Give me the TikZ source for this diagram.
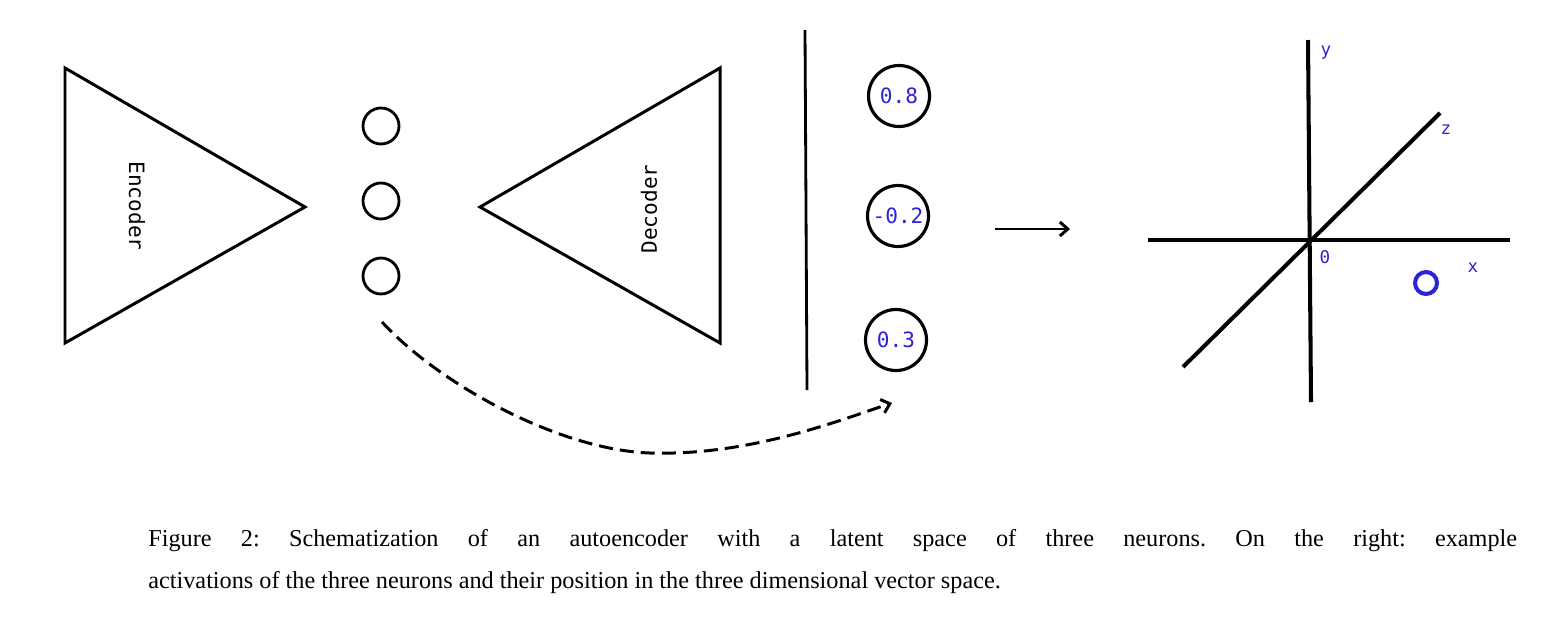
\documentclass[tikz,border=0pt]{standalone}
\usepackage{fontspec}
\setmainfont{Liberation Serif}
\newfontfamily\labelfont{DejaVu Sans Mono}
\usetikzlibrary{arrows.meta}
\definecolor{valblue}{RGB}{45,35,215}

\begin{document}
\begin{tikzpicture}[
    x=0.02cm, y=-0.02cm,
    every node/.style={font=\labelfont\fontsize{12}{14}\selectfont},
    neuron/.style={
        draw,
        circle,
        line width=1.6pt,
        minimum size=0.72cm,
        inner sep=0pt
    },
    value/.style={
        draw,
        circle,
        line width=1.8pt,
        minimum size=1.22cm,
        inner sep=0pt,
        text=valblue
    },
    axislabel/.style={text=valblue, font=\labelfont\fontsize{10}{12}\selectfont},
    net/.style={line width=1.7pt, line join=miter},
    axis/.style={line width=2.3pt},
    arrow/.style={-{Straight Barb[length=4.5pt,width=8pt]}, line width=1.7pt}
]

\useasboundingbox (0,0) rectangle (1567,629);

% Encoder
\draw[net] (65,68) -- (305,207) -- (65,343) -- cycle;
\node[rotate=-90] (enc) at (137,206) {Encoder};

% Latent neurons
\node[neuron] (l1) at (381,126) {};
\node[neuron] (l2) at (381,201) {};
\node[neuron] (l3) at (381,276) {};

% Decoder
\draw[net] (720,68) -- (480,207) -- (720,343) -- cycle;
\node[rotate=90] (dec) at (649,209) {Decoder};

% Separator
\draw[line width=1.6pt] (805,30) -- (807,390);

% Activations
\node[value] (v1) at (899,96) {0.8};
\node[value] (v2) at (898,216) {-0.2};
\node[value] (v3) at (896,340) {0.3};

% Latent to activations
\coordinate (dstart) at (382,322);
\coordinate (dlow) at (650,453);
\coordinate (dend) at (892,403);
\draw[arrow, dash pattern=on 8pt off 4pt] (dstart) .. controls (440,385) and (560,450) .. (dlow)
    .. controls (750,456) and (840,420) .. (dend);

% To vector space
\coordinate (map1) at (995,229);
\coordinate (map2) at (1070,229);
\draw[arrow] (map1) -- (map2);

% Axes
\coordinate (xa) at (1148,240);
\coordinate (xb) at (1510,240);
\coordinate (ya) at (1308,40);
\coordinate (yb) at (1311,402);
\coordinate (za) at (1183,367);
\coordinate (zb) at (1440,113);
\draw[axis] (xa) -- (xb);
\draw[axis] (ya) -- (yb);
\draw[axis] (za) -- (zb);

\node[axislabel] (ly) at (1326,53) {y};
\node[axislabel] (lz) at (1446,130) {z};
\node[axislabel] (lo) at (1325,257) {0};
\node[axislabel] (lx) at (1473,268) {x};
\node[draw=valblue, circle, line width=2.3pt, minimum size=0.44cm, inner sep=0pt] (pt) at (1426,283) {};

% Caption
\node[anchor=north west, inner sep=0pt, text width=27.38cm, align=justify,
      font=\rmfamily\fontsize{13.8}{23.8}\selectfont\frenchspacing] (cap) at (148,529)
    {Figure 2: Schematization of an autoencoder with a latent space of three neurons. On the right: example\linebreak
     activations of the three neurons and their position in the three dimensional vector space.};

\end{tikzpicture}
\end{document}
